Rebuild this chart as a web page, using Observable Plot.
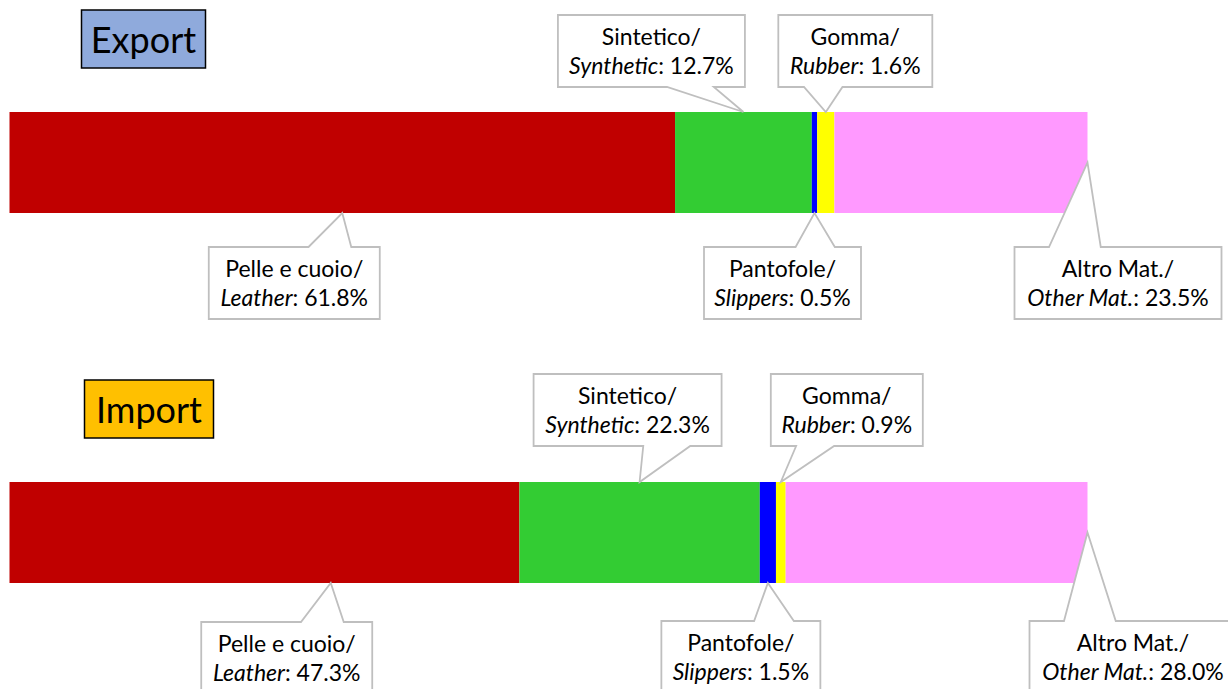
<!DOCTYPE html>
<html>
<head>
<meta charset="utf-8">
<script src="https://cdn.jsdelivr.net/npm/d3@7"></script>
<script src="https://cdn.jsdelivr.net/npm/@observablehq/plot@0.6"></script>
<style>
  body { margin: 0; background: #ffffff; }
  #chart svg { display: block; }
</style>
</head>
<body>
<div id="chart"></div>
<script>
// ---------- data ----------
const groups = ["Export", "Import"];
const materialsIt = ["Pelle e cuoio", "Sintetico", "Pantofole", "Gomma", "Altro Mat."];
const materialsEn = ["Leather", "Synthetic", "Slippers", "Rubber", "Other Mat."];
const exportShares = [61.8, 12.7, 0.5, 1.6, 23.5];
const importShares = [47.3, 22.3, 1.5, 0.9, 28.0];

// ---------- styles ----------
const materialColors = ["#C00000", "#33CC33", "#0000FF", "#FFFF00", "#FF99FF"];
const groupFills = ["#8FAADC", "#FFC000"];
const FONT = "Lato, 'Open Sans', sans-serif";

// ---------- callout layout (side of bar, tip position inside segment, box offset / gap / width in px) ----------
const exportCallouts = [
  {side: "below", at: 0.5, tipY: "edge", dx: -48,   gap: 34, w: 171},
  {side: "above", at: 0.5, tipY: "edge", dx: -92,   gap: 25, w: 187},
  {side: "below", at: 0.5, tipY: "edge", dx: -32,   gap: 34, w: 157},
  {side: "above", at: 0.5, tipY: "edge", dx: 29.5,  gap: 25, w: 154},
  {side: "below", at: 1.0, tipY: "mid",  dx: 30.5,  gap: 34, w: 207}
];
const importCallouts = [
  {side: "below", at: 0.63, tipY: "edge", dx: -44,  gap: 39, w: 171},
  {side: "above", at: 0.5,  tipY: "edge", dx: -12,  gap: 36, w: 188},
  {side: "below", at: 0.5,  tipY: "edge", dx: -27,  gap: 38, w: 159},
  {side: "above", at: 0.5,  tipY: "edge", dx: 66,   gap: 36, w: 152},
  {side: "below", at: 1.0,  tipY: "mid",  dx: 45.5, gap: 38, w: 207}
];
const titleLayout = [{dx: 72, w: 124}, {dx: 75, w: 129}];
const BOX_H = 72, TITLE_H = 58, TITLE_GAP = 102;

// ---------- table ----------
const shareSets = [exportShares, importShares];
const calloutSets = [exportCallouts, importCallouts];
const rows = [];
groups.forEach((g, gi) => {
  materialsEn.forEach((m, mi) => rows.push({group: g, material: m, value: shareSets[gi][mi]}));
});

// ---------- annotation mark (callouts + title boxes) ----------
function annotations(index, scales) {
  const x = scales.x, y = scales.y;
  const bw = y.bandwidth ? y.bandwidth() : 101;
  const g = d3.create("svg:g");
  groups.forEach((grp, gi) => {
    const vals = shareSets[gi];
    const total = d3.sum(vals);
    const cum = [0, ...d3.cumsum(vals)];
    const top = y(grp), bottom = top + bw, mid = top + bw / 2;

    // title box
    const tl = titleLayout[gi];
    const tx0 = x(0) + tl.dx, ty0 = top - TITLE_GAP;
    g.append("rect").attr("x", tx0).attr("y", ty0).attr("width", tl.w).attr("height", TITLE_H)
      .attr("fill", groupFills[gi]).attr("stroke", "#000").attr("stroke-width", 1.5);
    g.append("text").attr("x", tx0 + tl.w / 2).attr("y", ty0 + 43)
      .attr("text-anchor", "middle").attr("font-family", FONT).attr("font-size", 36)
      .attr("fill", "#000").text(grp);

    // callouts
    calloutSets[gi].forEach((c, mi) => {
      const a = cum[mi] / total, b = cum[mi + 1] / total;
      const tipX = x(a + c.at * (b - a));
      const cx = tipX + c.dx;
      const x0 = cx - c.w / 2, x1 = cx + c.w / 2;
      let y0, y1, tipY;
      if (c.side === "above") {
        y1 = top - c.gap; y0 = y1 - BOX_H; tipY = c.tipY === "mid" ? mid : top;
      } else {
        y0 = bottom + c.gap; y1 = y0 + BOX_H; tipY = c.tipY === "mid" ? mid : bottom;
      }
      const right = tipX > cx;
      const bL = x0 + c.w * (right ? 7 / 12 : 2 / 12);
      const bR = x0 + c.w * (right ? 10 / 12 : 5 / 12);
      let path;
      if (c.side === "above") {
        path = `M${x0},${y0}H${x1}V${y1}H${bR}L${tipX},${tipY}L${bL},${y1}H${x0}Z`;
      } else {
        path = `M${x0},${y0}H${bL}L${tipX},${tipY}L${bR},${y0}H${x1}V${y1}H${x0}Z`;
      }
      g.append("path").attr("d", path).attr("fill", "#fff")
        .attr("stroke", "#BFBFBF").attr("stroke-width", 1.8).attr("stroke-linejoin", "miter");
      const t1 = g.append("text").attr("x", cx).attr("y", y0 + 30)
        .attr("text-anchor", "middle").attr("font-family", FONT).attr("font-size", 23).attr("fill", "#000");
      t1.text(materialsIt[mi] + "/");
      const t2 = g.append("text").attr("x", cx).attr("y", y0 + 59)
        .attr("text-anchor", "middle").attr("font-family", FONT).attr("font-size", 23).attr("fill", "#000");
      t2.append("tspan").attr("font-style", "italic").text(materialsEn[mi]);
      t2.append("tspan").text(": " + vals[mi].toFixed(1) + "%");
    });
  });
  return g.node();
}

const chart = Plot.plot({
  width: 1228,
  height: 689,
  margin: 0,
  style: {background: "#fff", fontFamily: FONT},
  x: {domain: [0, 1], range: [9.5, 1087.5], axis: null},
  y: {type: "band", domain: groups, range: [112, 584], paddingInner: 0.727, paddingOuter: 0, axis: null},
  color: {domain: materialsEn, range: materialColors},
  marks: [
    Plot.barX(rows, Plot.stackX({x: "value", y: "group", fill: "material", offset: "normalize", order: null, inset: 0})),
    annotations
  ]
});
document.getElementById("chart").appendChild(chart);
</script>
</body>
</html>
